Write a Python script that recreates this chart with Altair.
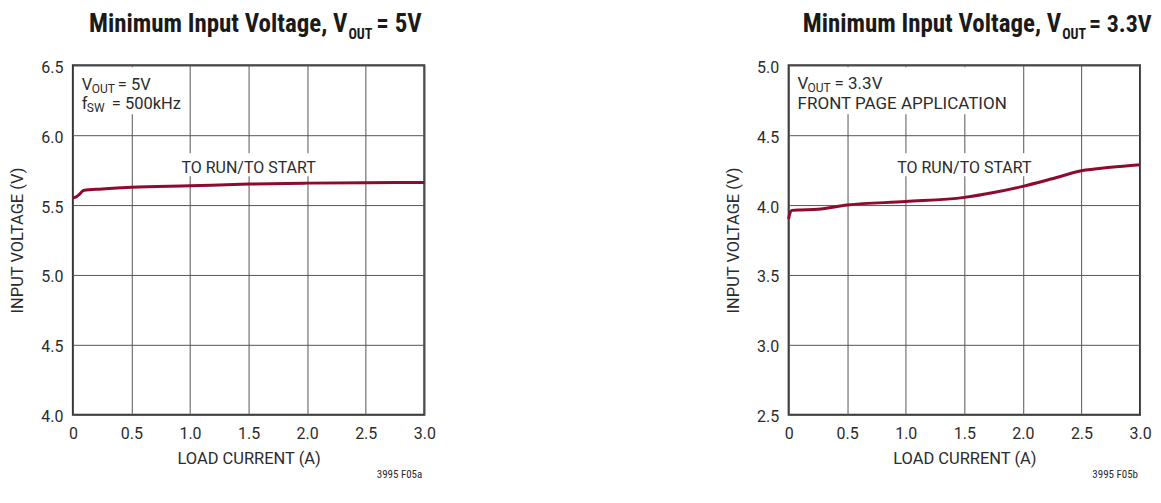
import altair as alt
import pandas as pd

# ---------------- data ----------------
x_ticks = [0, 0.5, 1.0, 1.5, 2.0, 2.5, 3.0]

current_a = [0, 0.03, 0.06, 0.09, 0.25, 0.5, 1.0, 1.5, 2.0, 2.5, 3.0]
vin_a = [5.55, 5.56, 5.58, 5.605, 5.615, 5.627, 5.638, 5.65, 5.657, 5.66, 5.662]
y_ticks_a = [4.0, 4.5, 5.0, 5.5, 6.0, 6.5]

current_b = [0, 0.01, 0.03, 0.1, 0.25, 0.5, 1.0, 1.5, 1.75, 2.0, 2.25, 2.5, 2.75, 3.0]
vin_b = [3.90, 3.94, 3.962, 3.965, 3.97, 4.0, 4.025, 4.055, 4.09, 4.134, 4.188, 4.245, 4.27, 4.288]
y_ticks_b = [2.5, 3.0, 3.5, 4.0, 4.5, 5.0]

curve_label = "TO RUN/TO START"
x_title = "LOAD CURRENT (A)"
y_title = "INPUT VOLTAGE (V)"

FONT = "Roboto, Liberation Sans, sans-serif"
TFONT = "Roboto Condensed, Liberation Sans Narrow, Roboto, sans-serif"
TXT = "#2b2b2b"
LINE = "#8E0B2F"
GRID = "#555555"
W, H = 352, 350
TY = -33  # title baseline relative to plot top


def panel(cur, vin, yticks, box_note, box_label, label_pos, title_main, title_rest,
          notes, code):
    ydom = [yticks[0], yticks[-1]]
    xenc = alt.X("I:Q", scale=alt.Scale(domain=[0, 3], nice=False, zero=False),
                 title=x_title,
                 axis=alt.Axis(values=x_ticks,
                               labelExpr="datum.value == 0 ? '0' : format(datum.value, '.1f')",
                               ticks=False, domain=False, grid=True, gridColor=GRID,
                               gridWidth=1, gridOpacity=1, labelPadding=11,
                               labelFontSize=16, labelFont=FONT, labelColor=TXT,
                               titleFont=FONT, titleFontSize=16.5, titleFontWeight="normal",
                               titleColor=TXT, titlePadding=9, labelFlush=False))
    yenc = alt.Y("V:Q", scale=alt.Scale(domain=ydom, nice=False, zero=False),
                 title=y_title,
                 axis=alt.Axis(values=yticks, format=".1f", ticks=False, domain=False,
                               grid=True, gridColor=GRID, gridWidth=1, gridOpacity=1,
                               labelPadding=10, labelFontSize=16, labelFont=FONT,
                               labelColor=TXT, labelOffset=2, minExtent=33, maxExtent=33,
                               titleFont=FONT, titleFontSize=16.5, titleFontWeight="normal",
                               titleColor=TXT, titlePadding=14, labelFlush=False))

    boxes = pd.DataFrame([box_note, box_label], columns=["I", "I2", "V", "V2"])
    rects = alt.Chart(boxes).mark_rect(fill="white", stroke=None).encode(
        x=xenc, x2="I2:Q", y=yenc, y2="V2:Q")

    line = alt.Chart(pd.DataFrame({"I": cur, "V": vin})).mark_line(
        color=LINE, strokeWidth=3, interpolate="monotone").encode(x=xenc, y=yenc)

    lab = alt.Chart(pd.DataFrame({"I": [label_pos[0]], "V": [label_pos[1]],
                                  "t": [curve_label]})).mark_text(
        align="center", baseline="alphabetic", font=FONT, fontSize=16, color=TXT
    ).encode(x=xenc, y=yenc, text="t:N")

    tmain = alt.Chart(pd.DataFrame({"t": [title_main[0]]})).mark_text(
        align="right", baseline="alphabetic", font=TFONT, fontSize=25,
        fontWeight="bold", color="#1a1a1a"
    ).encode(x=alt.value(title_main[1]), y=alt.value(TY), text="t:N")

    trest = alt.Chart(pd.DataFrame(title_rest, columns=["t", "px", "dy", "fs"])).mark_text(
        align="left", baseline="alphabetic", font=TFONT, fontWeight="bold", color="#1a1a1a"
    ).transform_calculate(py=f"{TY} + datum.dy").encode(
        x=alt.X("px:Q", scale=None), y=alt.Y("py:Q", scale=None), text="t:N",
        size=alt.Size("fs:Q", scale=None, legend=None))

    nt = alt.Chart(pd.DataFrame(notes, columns=["t", "px", "py", "fs"])).mark_text(
        align="left", baseline="alphabetic", font=FONT, color=TXT
    ).encode(x=alt.X("px:Q", scale=None), y=alt.Y("py:Q", scale=None), text="t:N",
             size=alt.Size("fs:Q", scale=None, legend=None))

    cd = alt.Chart(pd.DataFrame({"t": [code]})).mark_text(
        align="right", baseline="alphabetic", font=TFONT, fontSize=11, color=TXT
    ).encode(x=alt.value(350), y=alt.value(413), text="t:N")

    return alt.layer(rects, lab, line, tmain, trest, nt, cd).properties(width=W, height=H)


left = panel(
    current_a, vin_a, y_ticks_a,
    box_note=[0.02, 0.96, 6.486, 6.15],
    box_label=[0.9, 2.1, 5.871, 5.707],
    label_pos=[1.5, 5.729],
    title_main=["Minimum Input Voltage, V", 275],
    title_rest=[["OUT", 276, 7, 14], ["= 5V", 304, 0, 25]],
    notes=[["V", 9, 25, 16.5], ["OUT", 19, 28, 12], ["= 5V", 45, 25, 16.5],
           ["f", 9, 44, 16.5], ["SW", 14, 47, 12], ["= 500kHz", 39, 44, 16.5]],
    code="3995 F05a",
)

right = panel(
    current_b, vin_b, y_ticks_b,
    box_note=[0.02, 1.88, 4.986, 4.65],
    box_label=[0.88, 2.1, 4.371, 4.207],
    label_pos=[1.5, 4.229],
    title_main=["Minimum Input Voltage, V", 273],
    title_rest=[["OUT", 274, 7, 14], ["= 3.3V", 301, 0, 24]],
    notes=[["V", 9, 24, 17], ["OUT", 19, 27, 12], ["= 3.3V", 46, 24, 17],
           ["FRONT PAGE APPLICATION", 9, 44, 17]],
    code="3995 F05b",
)

chart = alt.hconcat(left, right, spacing=288).properties(
    padding={"top": 3, "left": 1, "right": 0, "bottom": 0}, background="white"
).configure_view(stroke="#333333", strokeWidth=2)

chart.save("out.html", embed_options={"renderer": "svg", "actions": False})
